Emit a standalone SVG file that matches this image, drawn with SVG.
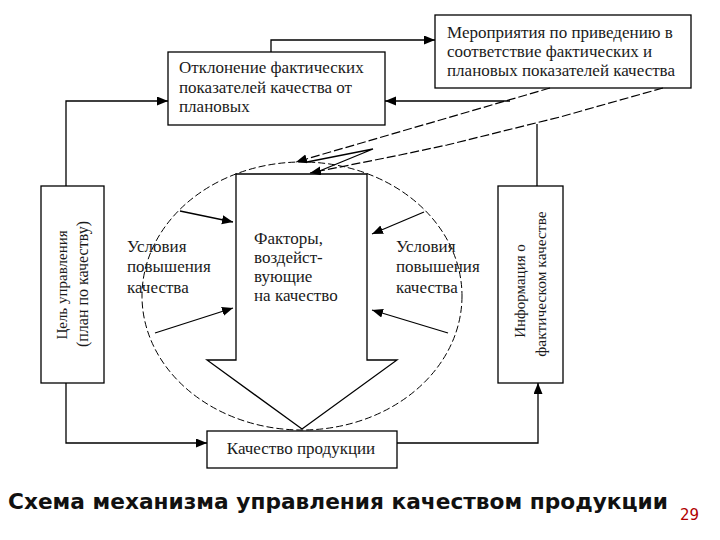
<svg xmlns="http://www.w3.org/2000/svg" width="720" height="540" viewBox="0 0 720 540">
<defs>
<marker id="ah" markerUnits="userSpaceOnUse" markerWidth="12" markerHeight="10" refX="11" refY="4.5" orient="auto">
<path d="M0,0 L11,4.5 L0,9 Z" fill="#000"/>
</marker>
<style>
.box{fill:#fff;stroke:#000;stroke-width:1.3}
.ln{fill:none;stroke:#000;stroke-width:1.3}
.dash{fill:none;stroke:#000;stroke-width:1.2;stroke-dasharray:9 3}
.ell{fill:none;stroke:#000;stroke-width:1;stroke-dasharray:7 3}
.t{font-family:"Liberation Serif","Times New Roman",serif;font-size:17px;fill:#1a1a1a}
.title{font-family:"DejaVu Sans",Verdana,sans-serif;font-size:22px;font-weight:bold;fill:#111}
</style>
</defs>
<rect width="720" height="540" fill="#fff"/>

<ellipse class="ell" cx="302" cy="296" rx="160" ry="134"/>

<g id="factors">
<polygon class="box" points="236,174 367,174 367,360 397,360 302,429 207,360 236,360"/>
<text class="t" x="254" y="244">Факторы,</text>
<text class="t" x="254" y="263">воздейст-</text>
<text class="t" x="254" y="282">вующие</text>
<text class="t" x="254" y="301">на качество</text>
</g>

<g id="cond-left">
<text class="t" x="127" y="252">Условия</text>
<text class="t" x="127" y="272">повышения</text>
<text class="t" x="127" y="293">качества</text>
</g>
<g id="cond-right">
<text class="t" x="396" y="252">Условия</text>
<text class="t" x="396" y="272">повышения</text>
<text class="t" x="396" y="293">качества</text>
</g>

<g id="deviation">
<rect class="box" x="168" y="52" width="217" height="73"/>
<text class="t" x="179" y="73">Отклонение фактических</text>
<text class="t" x="179" y="93">показателей качества от</text>
<text class="t" x="179" y="112">плановых</text>
</g>

<g id="measures">
<rect class="box" x="435" y="15" width="256" height="73"/>
<text class="t" x="447" y="38">Мероприятия по приведению в</text>
<text class="t" x="447" y="57">соответствие фактических и</text>
<text class="t" x="447" y="76">плановых показателей качества</text>
</g>

<g id="goal">
<rect class="box" x="41" y="186" width="63" height="197"/>
<text class="t" transform="translate(67,285) rotate(-90)" text-anchor="middle" style="font-size:15px">Цель управления</text>
<text class="t" transform="translate(88,284) rotate(-90)" text-anchor="middle" style="font-size:16px">(план по качеству)</text>
</g>

<g id="info">
<rect class="box" x="498" y="186" width="65" height="197"/>
<text class="t" transform="translate(525,291) rotate(-90)" text-anchor="middle" style="font-size:15px">Информация о</text>
<text class="t" transform="translate(546,284) rotate(-90)" text-anchor="middle" style="font-size:15.5px">фактическом качестве</text>
</g>

<g id="quality">
<rect class="box" x="207" y="431" width="190" height="37"/>
<text class="t" x="301" y="454" text-anchor="middle">Качество продукции</text>
</g>

<g id="connectors">
<path class="ln" d="M66,186 V101 H168" marker-end="url(#ah)"/>
<path class="ln" d="M271,52 V40 H435" marker-end="url(#ah)"/>
<path class="ln" d="M537,186 V124"/>
<path class="ln" d="M510,101 H385" marker-end="url(#ah)"/>
<path class="ln" d="M397,443 H538 V383" marker-end="url(#ah)"/>
<path class="ln" d="M66,383 V443 H207" marker-end="url(#ah)"/>
<path class="dash" d="M550,88 L296,162" marker-end="url(#ah)"/>
<path class="dash" d="M663,88 L560,117 L447,145 L400,155 L310,173" marker-end="url(#ah)"/>
<path class="ln" d="M307,162 L373,149 L317,172"/>
<path class="ln" d="M180,211 L233,222" marker-end="url(#ah)"/>
<path class="ln" d="M155,333 L233,308" marker-end="url(#ah)"/>
<path class="ln" d="M424,212 L372,234" marker-end="url(#ah)"/>
<path class="ln" d="M448,333 L372,310" marker-end="url(#ah)"/>
</g>

<text class="title" x="8" y="509" textLength="660" lengthAdjust="spacingAndGlyphs">Схема механизма управления качеством продукции</text>
<text x="680" y="520" style="font-family:'DejaVu Sans',Tahoma,sans-serif;font-size:15px;fill:#b00000">29</text>
</svg>
